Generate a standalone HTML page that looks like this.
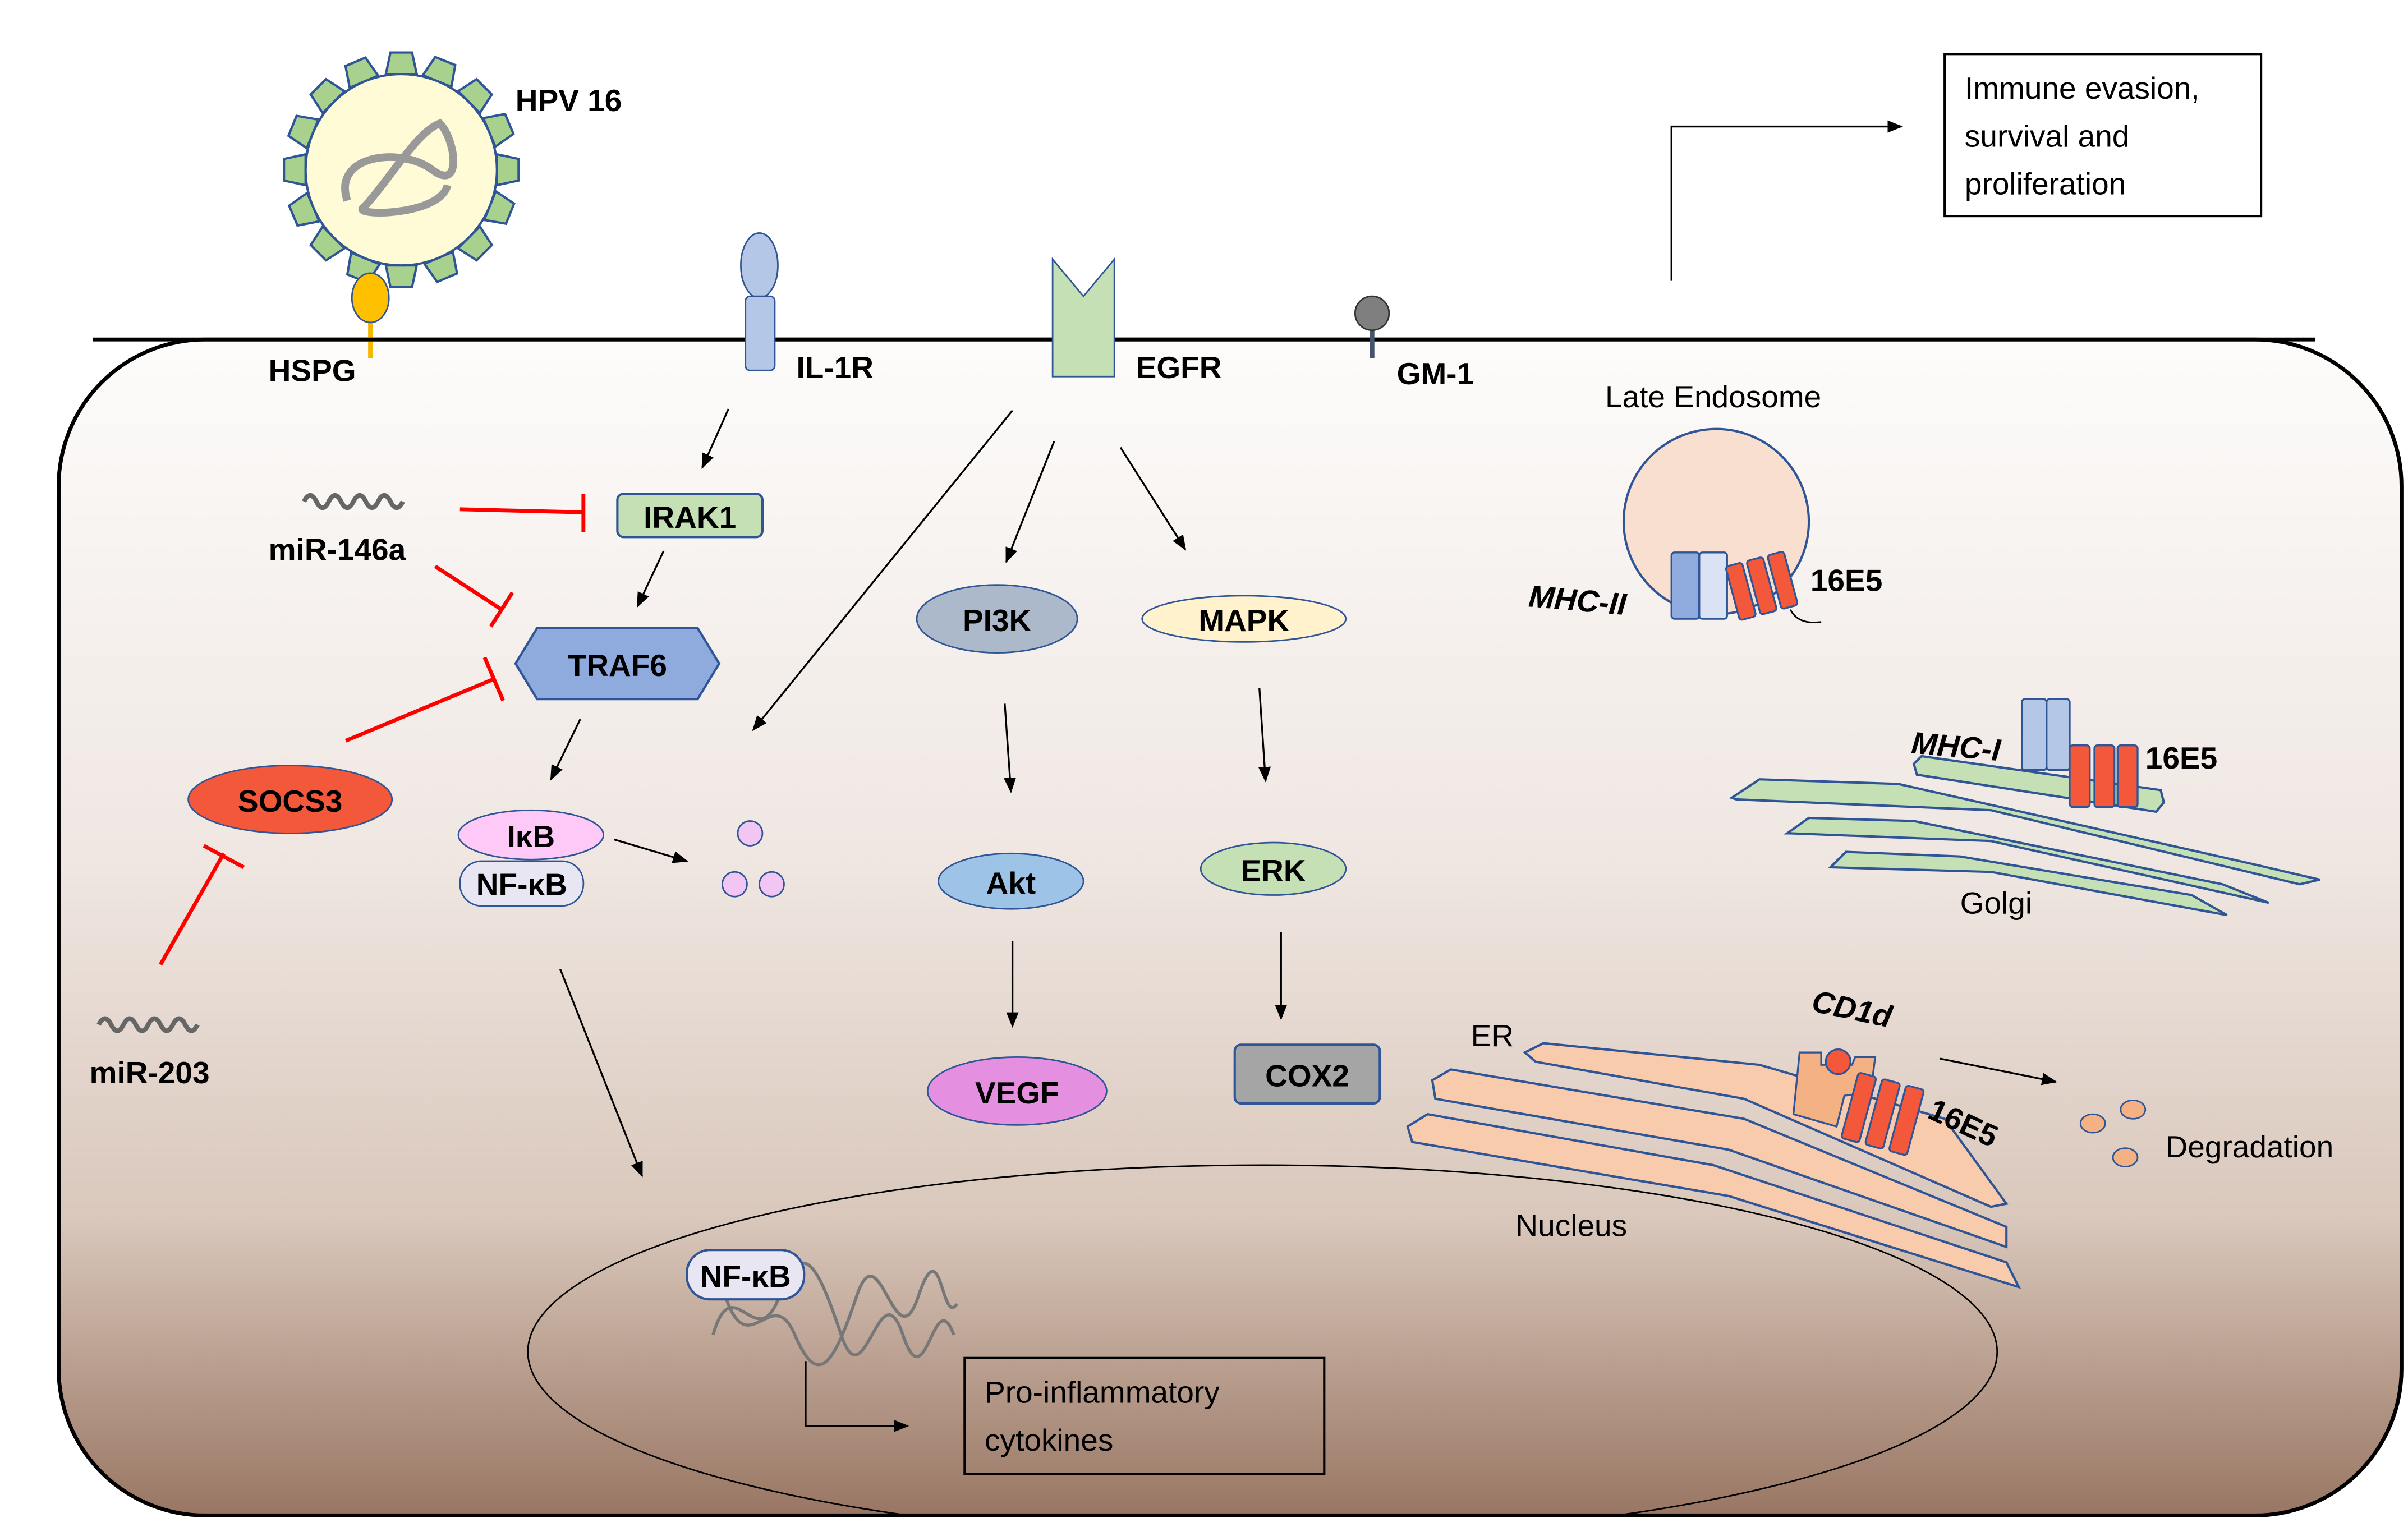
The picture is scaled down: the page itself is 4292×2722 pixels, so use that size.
<!DOCTYPE html>
<html><head><meta charset="utf-8"><style>
html,body{margin:0;padding:0;background:#fff}
svg{display:block}
text{font-family:"Liberation Sans",sans-serif;fill:#000}
.b{font-weight:bold;font-size:20px}
.n{font-size:20px}
.ar{stroke:#000;stroke-width:1.2;fill:none;marker-end:url(#ah)}
.red{stroke:#f00;stroke-width:2.5;fill:none}
</style></head><body>
<svg width="4292" height="2722" viewBox="0 0 1560.2 989.5" preserveAspectRatio="none" xmlns="http://www.w3.org/2000/svg">
<defs>
<marker id="ah" markerWidth="10" markerHeight="10" refX="9" refY="5" orient="auto" markerUnits="userSpaceOnUse"><path d="M0,1 L10,5 L0,9 z" fill="#000"/></marker>
<linearGradient id="cg" x1="0" y1="0" x2="0" y2="1">
<stop offset="0" stop-color="#fdfcfb"/><stop offset="0.45" stop-color="#efe6e1"/><stop offset="0.75" stop-color="#d9c7bb"/><stop offset="1" stop-color="#997663"/></linearGradient>
<clipPath id="cc"><rect x="38" y="220" width="1518" height="762" rx="95"/></clipPath>
</defs>
<rect x="38" y="220" width="1518" height="762" rx="95" fill="url(#cg)" stroke="#000" stroke-width="2.5"/>
<g clip-path="url(#cc)"><ellipse cx="818" cy="876" rx="476" ry="121" fill="none" stroke="#000" stroke-width="1"/></g>
<!-- HPV -->
<g fill="#a9d18e" stroke="#2f5597" stroke-width="1.5">
<g transform="translate(260,110)">
<polygon points="-10,-62 -7,-76 7,-76 10,-62" transform="rotate(0)"/>
<polygon points="-10,-62 -7,-76 7,-76 10,-62" transform="rotate(22)"/>
<polygon points="-10,-62 -7,-76 7,-76 10,-62" transform="rotate(45)"/>
<polygon points="-10,-62 -7,-76 7,-76 10,-62" transform="rotate(67)"/>
<polygon points="-10,-62 -7,-76 7,-76 10,-62" transform="rotate(90)"/>
<polygon points="-10,-62 -7,-76 7,-76 10,-62" transform="rotate(112)"/>
<polygon points="-10,-62 -7,-76 7,-76 10,-62" transform="rotate(135)"/>
<polygon points="-10,-62 -7,-76 7,-76 10,-62" transform="rotate(157)"/>
<polygon points="-10,-62 -7,-76 7,-76 10,-62" transform="rotate(180)"/>
<polygon points="-10,-62 -7,-76 7,-76 10,-62" transform="rotate(202)"/>
<polygon points="-10,-62 -7,-76 7,-76 10,-62" transform="rotate(225)"/>
<polygon points="-10,-62 -7,-76 7,-76 10,-62" transform="rotate(247)"/>
<polygon points="-10,-62 -7,-76 7,-76 10,-62" transform="rotate(270)"/>
<polygon points="-10,-62 -7,-76 7,-76 10,-62" transform="rotate(292)"/>
<polygon points="-10,-62 -7,-76 7,-76 10,-62" transform="rotate(315)"/>
<polygon points="-10,-62 -7,-76 7,-76 10,-62" transform="rotate(337)"/>
</g></g>
<circle cx="260" cy="110" r="62" fill="#fffbd6" stroke="#2f5597" stroke-width="1.5"/>
<path d="M225,130 C215,100 260,95 280,110 C300,125 295,90 285,80 C270,85 250,120 235,135 C230,140 285,140 290,120" fill="none" stroke="#999" stroke-width="5"/>
<line x1="240" y1="200" x2="240" y2="232" stroke="#f5b800" stroke-width="3"/>
<ellipse cx="240" cy="193" rx="12" ry="16" fill="#ffc000" stroke="#2f5597" stroke-width="1"/>
<!-- membrane line -->
<line x1="60" y1="220" x2="1500" y2="220" stroke="#000" stroke-width="2.5"/>
<!-- IL-1R -->
<ellipse cx="492" cy="172" rx="12" ry="21" fill="#b4c7e7" stroke="#2f5597"/>
<rect x="483" y="192" width="19" height="48" rx="3" fill="#b4c7e7" stroke="#2f5597"/>
<!-- EGFR -->
<path d="M682,168 L702,192 L722,168 L722,244 L682,244 Z" fill="#c5e0b4" stroke="#2f5597"/>
<!-- GM-1 -->
<line x1="889" y1="212" x2="889" y2="232" stroke="#44546a" stroke-width="3"/>
<circle cx="889" cy="203" r="11" fill="#7f7f7f" stroke="#333"/>
<text class="b" x="334" y="72">HPV 16</text>
<text class="b" x="174" y="247">HSPG</text>
<text class="b" x="516" y="245">IL-1R</text>
<text class="b" x="736" y="245">EGFR</text>
<text class="b" x="905" y="249">GM-1</text>
<!-- top right box -->
<rect x="1260" y="35" width="205" height="105" fill="#fff" stroke="#000" stroke-width="1.5"/>
<text class="n" x="1273" y="64">Immune evasion,</text>
<text class="n" x="1273" y="95">survival and</text>
<text class="n" x="1273" y="126">proliferation</text>
<path d="M1083,182 L1083,82 L1232,82" class="ar"/>
<!-- left pathway -->
<path d="M197,325 q4,-8 8,0 t8,0 t8,0 t8,0 t8,0 t8,0 t8,0 t8,0" fill="none" stroke="#666" stroke-width="3"/>
<text class="b" x="174" y="363">miR-146a</text>
<path d="M64,664 q4,-8 8,0 t8,0 t8,0 t8,0 t8,0 t8,0 t8,0 t8,0" fill="none" stroke="#666" stroke-width="3"/>
<text class="b" x="58" y="702">miR-203</text>
<rect x="400" y="320" width="94" height="28" rx="4" fill="#c5e0b4" stroke="#2f5597" stroke-width="1.5"/>
<text class="b" x="447" y="342" text-anchor="middle">IRAK1</text>
<polygon points="334,430 348,407 452,407 466,430 452,453 348,453" fill="#8faadc" stroke="#2f5597" stroke-width="1.5"/>
<text class="b" x="400" y="438" text-anchor="middle">TRAF6</text>
<ellipse cx="188" cy="518" rx="66" ry="22" fill="#f4583a" stroke="#2f5597"/>
<text class="b" x="188" y="526" text-anchor="middle">SOCS3</text>
<path d="M298,330 L378,332 M378,320 L378,345" class="red"/>
<path d="M282,367 L325,395 M318,406 L332,384" class="red"/>
<path d="M224,480 L320,440 M314,426 L326,454" class="red"/>
<path d="M104,625 L145,553 M132,548 L158,562" class="red"/>
<ellipse cx="344" cy="541" rx="47" ry="16" fill="#ffc9f7" stroke="#2f5597"/>
<text class="b" x="344" y="549" text-anchor="middle">IκB</text>
<rect x="298" y="558" width="80" height="29" rx="14" fill="#e8e6f3" stroke="#2f5597"/>
<text class="b" x="338" y="580" text-anchor="middle">NF-κB</text>
<g fill="#f2c6f2" stroke="#2f5597"><circle cx="486" cy="540" r="8"/><circle cx="476" cy="573" r="8"/><circle cx="500" cy="573" r="8"/></g>
<line x1="472" y1="265" x2="455" y2="303" class="ar"/>
<line x1="430" y1="357" x2="413" y2="393" class="ar"/>
<line x1="376" y1="466" x2="357" y2="505" class="ar"/>
<line x1="398" y1="544" x2="445" y2="558" class="ar"/>
<line x1="656" y1="266" x2="488" y2="473" class="ar"/>
<line x1="683" y1="286" x2="652" y2="364" class="ar"/>
<line x1="726" y1="290" x2="768" y2="356" class="ar"/>
<line x1="651" y1="456" x2="655" y2="513" class="ar"/>
<line x1="816" y1="446" x2="820" y2="506" class="ar"/>
<line x1="656" y1="610" x2="656" y2="665" class="ar"/>
<line x1="830" y1="604" x2="830" y2="660" class="ar"/>
<line x1="363" y1="628" x2="416" y2="762" class="ar"/>
<line x1="1257" y1="686" x2="1332" y2="701" class="ar"/>
<!-- middle nodes -->
<ellipse cx="646" cy="401" rx="52" ry="22" fill="#acb9ca" stroke="#2f5597"/>
<text class="b" x="646" y="409" text-anchor="middle">PI3K</text>
<ellipse cx="806" cy="401" rx="66" ry="15" fill="#fff2cc" stroke="#2f5597"/>
<text class="b" x="806" y="409" text-anchor="middle">MAPK</text>
<ellipse cx="655" cy="571" rx="47" ry="18" fill="#9dc3e6" stroke="#2f5597"/>
<text class="b" x="655" y="579" text-anchor="middle">Akt</text>
<ellipse cx="825" cy="563" rx="47" ry="17" fill="#c5e0b4" stroke="#2f5597"/>
<text class="b" x="825" y="571" text-anchor="middle">ERK</text>
<ellipse cx="659" cy="707" rx="58" ry="22" fill="#e58fe0" stroke="#2f5597"/>
<text class="b" x="659" y="715" text-anchor="middle">VEGF</text>
<rect x="800" y="677" width="94" height="38" rx="4" fill="#a5a5a5" stroke="#2f5597" stroke-width="1.5"/>
<text class="b" x="847" y="704" text-anchor="middle">COX2</text>
<!-- late endosome -->
<text class="n" x="1040" y="264">Late Endosome</text>
<circle cx="1112" cy="338" r="60" fill="#f8dfcf" stroke="#2f5597" stroke-width="1.5"/>
<g stroke="#2f5597" stroke-width="1.2">
<rect x="1083" y="358" width="18" height="43" rx="2" fill="#8faadc"/>
<rect x="1101" y="358" width="18" height="43" rx="2" fill="#dae3f3"/>
<g fill="#f4583a" transform="rotate(-15 1140 380)">
<rect x="1122" y="362" width="11" height="36" rx="2"/><rect x="1136" y="362" width="11" height="36" rx="2"/><rect x="1150" y="362" width="11" height="36" rx="2"/></g></g>
<path d="M1160,395 q5,10 20,8" fill="none" stroke="#000"/>
<text class="b" x="990" y="393" font-style="italic" transform="rotate(5 990 393)">MHC-II</text>
<text class="b" x="1173" y="383">16E5</text>
<!-- Golgi -->
<g fill="#c5e0b4" stroke="#2f5597" stroke-width="1.5">
<path d="M1122,517 L1140,505 L1230,508 L1460,560 L1503,570 L1490,573 L1290,525 L1125,518 Z"/>
<path d="M1158,540 L1172,530 L1240,532 L1440,573 L1470,585 L1290,545 L1160,540 Z"/>
<path d="M1186,562 L1196,552 L1270,555 L1420,580 L1443,593 L1290,565 Z"/>
<path d="M1240,495 L1245,490 L1400,512 L1402,520 L1397,526 L1242,502 Z"/>
</g>
<g stroke="#2f5597" stroke-width="1.2">
<rect x="1310" y="453" width="16" height="46" rx="2" fill="#b4c7e7"/>
<rect x="1326" y="453" width="15" height="46" rx="2" fill="#b4c7e7"/>
<g fill="#f4583a"><rect x="1341" y="483" width="13" height="40" rx="2"/><rect x="1357" y="483" width="13" height="40" rx="2"/><rect x="1372" y="483" width="13" height="40" rx="2"/></g></g>
<text class="b" x="1238" y="488" font-style="italic" transform="rotate(5 1238 488)">MHC-I</text>
<text class="b" x="1390" y="498">16E5</text>
<text class="n" x="1270" y="592">Golgi</text>
<!-- ER -->
<g fill="#f8cbad" stroke="#2f5597" stroke-width="1.5">
<path d="M988,682 L1000,676 L1140,690 L1260,725 L1300,780 L1290,782 L1130,712 L995,688 Z"/>
<path d="M928,700 L940,693 L1130,725 L1300,795 L1300,808 L1120,745 L930,712 Z"/>
<path d="M912,730 L925,722 L1110,755 L1300,818 L1308,834 L1120,775 L915,740 Z"/>
</g>
<g stroke="#2f5597" stroke-width="1.2">
<path d="M1166,682 L1180,682 L1180,690 L1200,690 L1202,685 L1215,685 L1212,708 L1195,710 L1190,730 L1162,722 Z" fill="#f4b183"/>
<circle cx="1191" cy="688" r="8" fill="#f4583a"/>
<g fill="#f4583a" transform="rotate(15 1220 725)"><rect x="1197" y="700" width="12" height="44" rx="2"/><rect x="1213" y="700" width="12" height="44" rx="2"/><rect x="1229" y="700" width="12" height="44" rx="2"/></g></g>
<text class="b" x="1173" y="655" font-style="italic" transform="rotate(12 1173 655)">CD1d</text>
<text class="b" x="1248" y="724" transform="rotate(25 1248 724)">16E5</text>
<text class="n" x="953" y="678">ER</text>
<g fill="#f4b183" stroke="#2f5597"><ellipse cx="1356" cy="728" rx="8" ry="6"/><ellipse cx="1382" cy="719" rx="8" ry="6"/><ellipse cx="1377" cy="750" rx="8" ry="6"/></g>
<text class="n" x="1403" y="750">Degradation</text>
<text class="n" x="982" y="801">Nucleus</text>
<!-- Nucleus content -->
<path d="M462,865 C475,820 490,880 505,840 S530,820 545,865 S570,820 585,865 S605,830 618,865" fill="none" stroke="#777" stroke-width="2"/>
<path d="M470,840 C485,885 500,830 515,865 S540,885 555,840 S580,885 595,840 S610,860 620,845" fill="none" stroke="#777" stroke-width="2"/>
<rect x="445" y="810" width="76" height="32" rx="15" fill="#e8e6f3" stroke="#2f5597" stroke-width="1.5"/>
<text class="b" x="483" y="834" text-anchor="middle">NF-κB</text>
<path d="M522,882 L522,924 L588,924" class="ar"/>
<rect x="625" y="880" width="233" height="75" fill="none" stroke="#000" stroke-width="1.5"/>
<text class="n" x="638" y="909">Pro-inflammatory</text>
<text class="n" x="638" y="940">cytokines</text>
</svg>
</body></html>
